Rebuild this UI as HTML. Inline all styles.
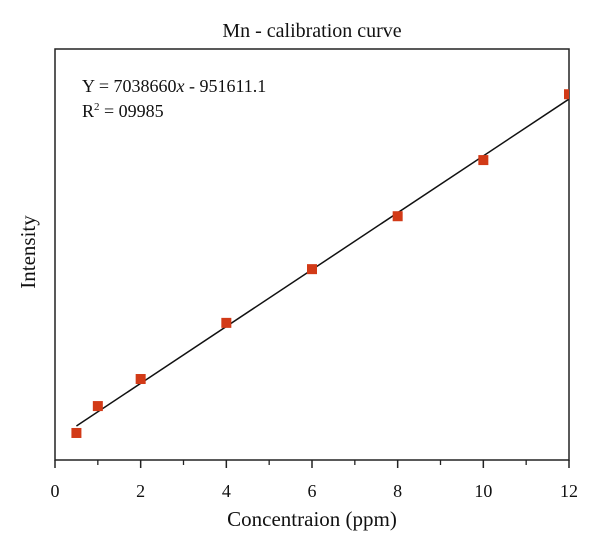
<!DOCTYPE html>
<html><head><meta charset="utf-8"><style>
body{margin:0;background:#fff}
svg text{font-family:"Liberation Serif",serif;fill:#111}
</style></head><body>
<svg width="600" height="551">
<defs><clipPath id="pc"><rect x="55" y="49" width="514" height="411"/></clipPath></defs>
<text x="312" y="37" font-size="20" text-anchor="middle">Mn - calibration curve</text>
<rect x="55" y="49" width="514" height="411" fill="none" stroke="#222" stroke-width="1.5"/>
<g id="ticks"></g>
<g id="marks" clip-path="url(#pc)"></g>
<text x="82" y="92" font-size="18">Y = 7038660<tspan font-style="italic">x</tspan> - 951611.1</text>
<text x="82" y="117" font-size="18">R<tspan font-size="11" dy="-7">2</tspan><tspan dy="7"> = 09985</tspan></text>
<text x="312" y="526" font-size="21" text-anchor="middle">Concentraion (ppm)</text>
<text x="0" y="0" font-size="21" text-anchor="middle" transform="translate(35,252) rotate(-90)">Intensity</text>
</svg>
<script>
const concentrations=[0.5,1,2,4,6,8,10,12];
const intensities=[0.84e6,7.5e6,14.2e6,28.1e6,41.4e6,54.5e6,68.4e6,84.7e6];
const xTicks=[0,2,4,6,8,10,12];
const slope=7038660, intercept=-951611.1;
const fitRange=[0.5,12];
const NS="http://www.w3.org/2000/svg";
const xs=v=>55+v*(514/12);
const ys=v=>460-(v+5.85e6)*(411/101.75e6);
const tg=document.getElementById('ticks'), mg=document.getElementById('marks');
function mk(tag,a,p){const e=document.createElementNS(NS,tag);for(const k in a)e.setAttribute(k,a[k]);p.appendChild(e);return e;}
for(let i=1;i<12;i+=2){
 const t=mk('line',{x1:xs(i),x2:xs(i),y1:460,y2:465,stroke:'#222','stroke-width':1.3},tg);
 
 
}
xTicks.forEach(v=>{
 const t=mk('line',{x1:xs(v),x2:xs(v),y1:460,y2:468,stroke:'#222','stroke-width':1.5},tg);
 
 
 const l=mk('text',{x:xs(v),y:497,'font-size':18,'text-anchor':'middle'},tg);
 l.textContent=v;
 
 
});
const fl=mk('line',{x1:xs(fitRange[0]),y1:ys(slope*fitRange[0]+intercept),x2:xs(fitRange[1]),y2:ys(slope*fitRange[1]+intercept),stroke:'#111','stroke-width':1.5},mg);


concentrations.forEach((c,i)=>{
 const r=mk('rect',{x:xs(c)-5,y:ys(intensities[i])-5,width:10,height:10,fill:'#d23a17'},mg);
 
 
});
</script>
</body></html>
